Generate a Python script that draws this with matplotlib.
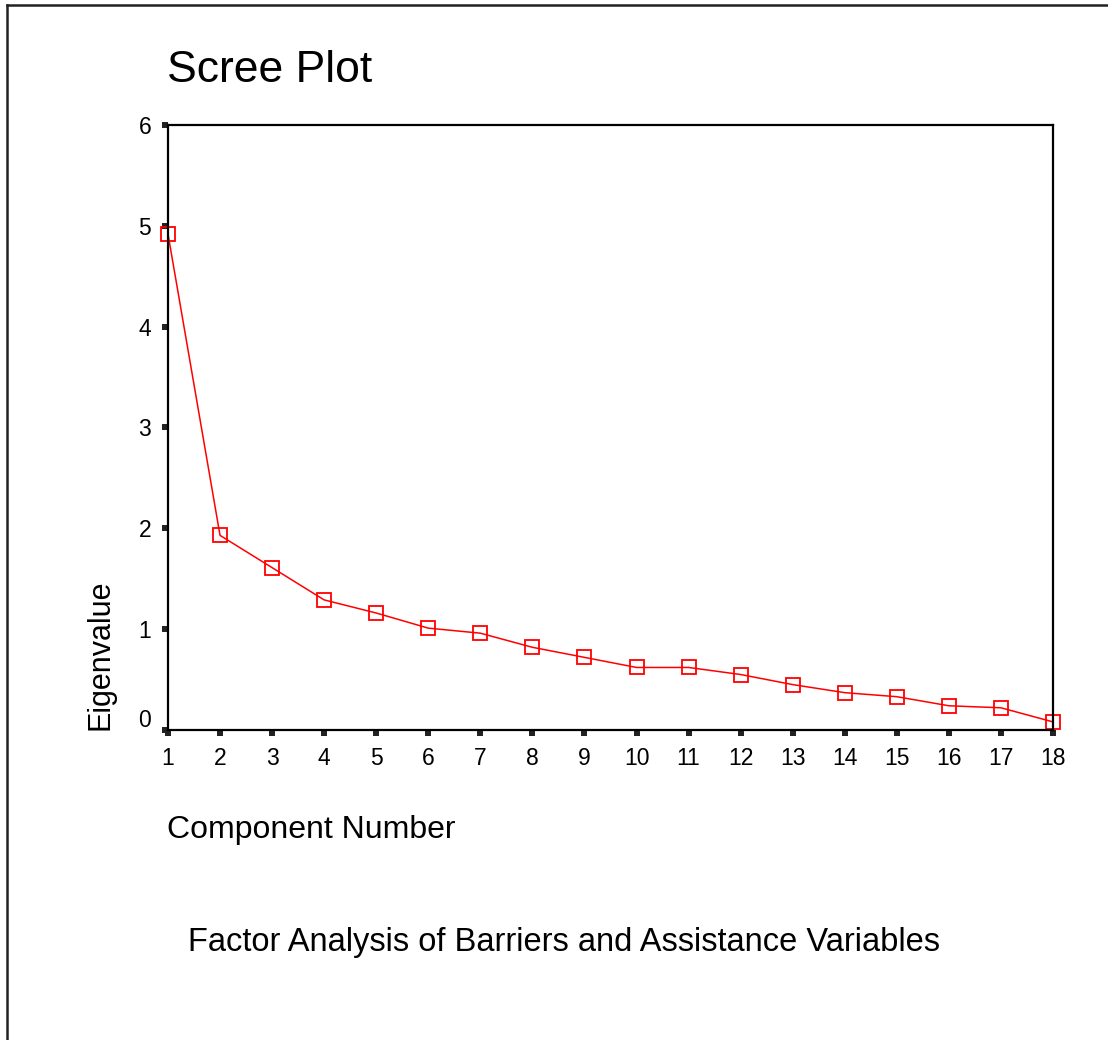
import numpy as np
import matplotlib.pyplot as plt
import matplotlib.transforms as mtransforms
from matplotlib.lines import Line2D

plt.rcParams['font.family'] = ['Liberation Sans', 'DejaVu Sans']

# Eigenvalues per component
components = np.arange(1, 19)
eigenvalues = [4.92, 1.93, 1.61, 1.29, 1.16, 1.01, 0.96, 0.82, 0.72,
               0.62, 0.62, 0.55, 0.45, 0.37, 0.33, 0.24, 0.22, 0.08]
y_ticks = [0, 1, 2, 3, 4, 5, 6]

fig = plt.figure(figsize=(11.08, 10.4), dpi=100)
ax = fig.add_axes([0.1516, 0.2981, 0.7988, 0.5817])

ax.plot(components, eigenvalues, color='red', lw=1.1,
        marker='s', markersize=10, markerfacecolor='none',
        markeredgecolor='red', markeredgewidth=1.3, clip_on=False)

ax.set_xlim(1, 18)
ax.set_ylim(0, 6)
ax.set_xticks(components)
ax.set_yticks(y_ticks)
ax.tick_params(direction='out', length=4, width=4.3, color='#222222',
               labelsize=16.5, pad=8)
for s in ax.spines.values():
    s.set_linewidth(1.6)

# the zero label sits a little above its tick
lab0 = ax.get_yticklabels()[0]
lab0.set_transform(lab0.get_transform() +
                   mtransforms.ScaledTranslation(0, 12 / 100, fig.dpi_scale_trans))

fig.text(167 / 1108, 1 - 70 / 1040, 'Scree Plot', fontsize=32,
         ha='left', va='center')
fig.text(100 / 1108, 1 - 730 / 1040, 'Eigenvalue', fontsize=22,
         rotation=90, ha='center', va='bottom')
fig.text(167 / 1108, 1 - 830 / 1040, 'Component Number', fontsize=23,
         ha='left', va='center')
fig.text(188 / 1108, 1 - 943 / 1040,
         'Factor Analysis of Barriers and Assistance Variables', fontsize=23.5,
         ha='left', va='center')

# page frame along top and left edges
fig.add_artist(Line2D([7 / 1108, 1], [1 - 5 / 1040, 1 - 5 / 1040],
                      transform=fig.transFigure, color='#222222', lw=1.8))
fig.add_artist(Line2D([7 / 1108, 7 / 1108], [0, 1 - 5 / 1040],
                      transform=fig.transFigure, color='#222222', lw=1.8))

fig.savefig('out.png', dpi=100)
